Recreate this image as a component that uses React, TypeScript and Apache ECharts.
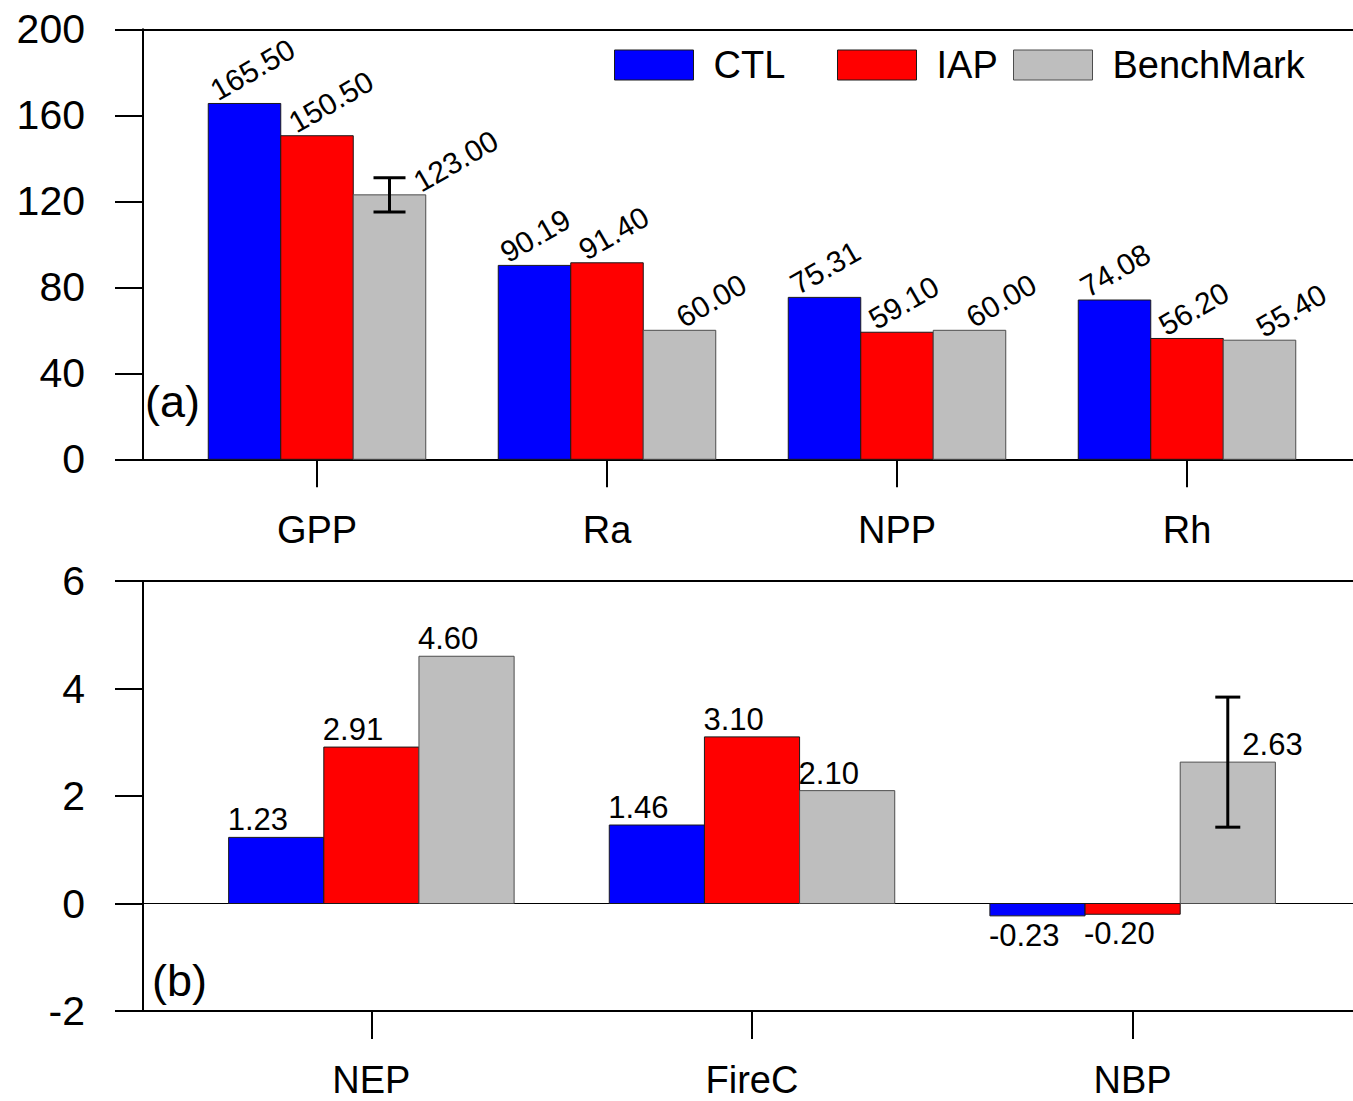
import React, { useEffect, useRef } from 'react';
import * as echarts from 'echarts';

// ---------------- data ----------------
const topCategories = ['GPP', 'Ra', 'NPP', 'Rh'];
const topCTL = [165.5, 90.19, 75.31, 74.08];
const topIAP = [150.5, 91.4, 59.1, 56.2];
const topBenchMark = [123.0, 60.0, 60.0, 55.4];
const topBenchMarkError = [8.0, 0, 0, 0];
const topYAxis = { min: 0, max: 200, interval: 40 };

const bottomCategories = ['NEP', 'FireC', 'NBP'];
const bottomCTL = [1.23, 1.46, -0.23];
const bottomIAP = [2.91, 3.1, -0.2];
const bottomBenchMark = [4.6, 2.1, 2.63];
const bottomBenchMarkError = [0, 0, 1.21];
const bottomYAxis = { min: -2, max: 6, interval: 2 };

const seriesNames = ['CTL', 'IAP', 'BenchMark'];
const panelTags = ['(a)', '(b)'];

// ---------------- styles ----------------
const FONT = '"Liberation Sans", Arial, Helvetica, sans-serif';
const seriesColors = ['#0000ff', '#ff0000', '#bebebe'];
const seriesBorders = ['#1a1a1a', '#1a1a1a', '#4d4d4d'];
const BAR_W = 0.25;
const topLabelShift = [12, 18, 43];
const capHalf = { top: 16, bottom: 12.5 };
const legendLefts = [614, 837, 1013];
const VALUE_FONT_TOP = 30;
const VALUE_FONT_BOTTOM = 31;

function barRenderer(panel: 'top' | 'bottom', k: number) {
  return (params: any, api: any) => {
    const x = api.value(0) as number;
    const v = api.value(1) as number;
    const err = api.value(2) as number;
    const cx = x + (k - 1) * BAR_W;
    const a = api.coord([cx - BAR_W / 2, v]);
    const b = api.coord([cx + BAR_W / 2, 0]);
    const left = a[0];
    const right = b[0];
    const yTop = Math.min(a[1], b[1]);
    const yBot = Math.max(a[1], b[1]);
    const midPx = (left + right) / 2;
    const children: any[] = [
      {
        type: 'rect',
        shape: { x: left, y: yTop, width: right - left, height: yBot - yTop },
        style: { fill: seriesColors[k], stroke: seriesBorders[k], lineWidth: 1 },
      },
    ];
    const ch = capHalf[panel];
    if (err > 0) {
      const hi = api.coord([cx, v + err]);
      const lo = api.coord([cx, v - err]);
      const ls = { stroke: '#000', lineWidth: 3 };
      children.push({ type: 'line', shape: { x1: midPx, y1: hi[1], x2: midPx, y2: lo[1] }, style: ls });
      children.push({ type: 'line', shape: { x1: midPx - ch, y1: hi[1], x2: midPx + ch, y2: hi[1] }, style: ls });
      children.push({ type: 'line', shape: { x1: midPx - ch, y1: lo[1], x2: midPx + ch, y2: lo[1] }, style: ls });
    }
    const text = v.toFixed(2);
    if (panel === 'top') {
      const sx = err > 0 ? midPx + ch + 18 : left + topLabelShift[k];
      children.push({
        type: 'text',
        x: sx,
        y: yTop + 2,
        rotation: Math.PI / 6,
        style: { text, fill: '#000', fontSize: VALUE_FONT_TOP, fontFamily: FONT, align: 'left', verticalAlign: 'bottom' },
      });
    } else {
      const sx = err > 0 ? midPx + ch + 2 : left - 1;
      if (v >= 0) {
        children.push({
          type: 'text', x: sx, y: yTop - 2,
          style: { text, fill: '#000', fontSize: VALUE_FONT_BOTTOM, fontFamily: FONT, align: 'left', verticalAlign: 'bottom' },
        });
      } else {
        children.push({
          type: 'text', x: sx, y: yBot + 4,
          style: { text, fill: '#000', fontSize: VALUE_FONT_BOTTOM, fontFamily: FONT, align: 'left', verticalAlign: 'top' },
        });
      }
    }
    return { type: 'group', children };
  };
}

function buildOption() {
  const topSets = [topCTL, topIAP, topBenchMark];
  const bottomSets = [bottomCTL, bottomIAP, bottomBenchMark];
  const series: any[] = [];
  topSets.forEach((vals, k) => {
    series.push({
      type: 'custom',
      name: seriesNames[k],
      xAxisIndex: 0,
      yAxisIndex: 0,
      itemStyle: { color: seriesColors[k], borderColor: seriesBorders[k], borderWidth: 1 },
      encode: { x: 0, y: 1 },
      data: vals.map((v, i) => [i + 1, v, k === 2 ? topBenchMarkError[i] : 0]),
      renderItem: barRenderer('top', k),
    });
  });
  bottomSets.forEach((vals, k) => {
    series.push({
      type: 'custom',
      name: seriesNames[k],
      xAxisIndex: 2,
      yAxisIndex: 1,
      itemStyle: { color: seriesColors[k], borderColor: seriesBorders[k], borderWidth: 1 },
      encode: { x: 0, y: 1 },
      data: vals.map((v, i) => [i + 1, v, k === 2 ? bottomBenchMarkError[i] : 0]),
      renderItem: barRenderer('bottom', k),
    });
  });

  const axisLineStyle = { color: '#000', width: 2 };
  const topTickValues = topCategories.map((_, i) => i + 1);
  const bottomTickValues = bottomCategories.map((_, i) => i + 1);

  return {
    animation: false,
    backgroundColor: '#fff',
    grid: [
      { left: 143, top: 29.3, width: 1218, height: 430 },
      { left: 143, top: 581, width: 1218, height: 430 },
    ],
    xAxis: [
      {
        type: 'value', gridIndex: 0, min: 0.4, max: 4.6, position: 'bottom',
        axisLine: { onZero: false, lineStyle: axisLineStyle },
        axisTick: { customValues: topTickValues, length: 28, lineStyle: axisLineStyle },
        axisLabel: {
          customValues: topTickValues, margin: 52, lineHeight: 38,
          formatter: (v: number) => topCategories[Math.round(v) - 1] ?? '',
          fontSize: 38, fontFamily: FONT, color: '#000',
        },
        splitLine: { show: false },
      },
      {
        type: 'value', gridIndex: 0, min: 0.4, max: 4.6, position: 'top',
        axisLine: { onZero: false, lineStyle: axisLineStyle },
        axisTick: { show: false }, axisLabel: { show: false }, splitLine: { show: false },
      },
      {
        type: 'value', gridIndex: 1, min: 0.4, max: 3.6, position: 'bottom',
        axisLine: { onZero: false, lineStyle: axisLineStyle },
        axisTick: { customValues: bottomTickValues, length: 28, lineStyle: axisLineStyle },
        axisLabel: {
          customValues: bottomTickValues, margin: 50, lineHeight: 38,
          formatter: (v: number) => bottomCategories[Math.round(v) - 1] ?? '',
          fontSize: 38, fontFamily: FONT, color: '#000',
        },
        splitLine: { show: false },
      },
      {
        type: 'value', gridIndex: 1, min: 0.4, max: 3.6, position: 'top',
        axisLine: { onZero: false, lineStyle: axisLineStyle },
        axisTick: { show: false }, axisLabel: { show: false }, splitLine: { show: false },
      },
      {
        type: 'value', gridIndex: 1, min: 0.4, max: 3.6, position: 'bottom',
        axisLine: { onZero: true, lineStyle: { color: '#000', width: 1.2 } },
        axisTick: { show: false }, axisLabel: { show: false }, splitLine: { show: false },
      },
    ],
    yAxis: [
      {
        type: 'value', gridIndex: 0, ...topYAxis,
        axisLine: { show: true, onZero: false, lineStyle: axisLineStyle },
        axisTick: { show: true, length: 28, lineStyle: axisLineStyle },
        axisLabel: { margin: 58, fontSize: 41, fontFamily: FONT, color: '#000' },
        splitLine: { show: false },
      },
      {
        type: 'value', gridIndex: 1, ...bottomYAxis,
        axisLine: { show: true, onZero: false, lineStyle: axisLineStyle },
        axisTick: { show: true, length: 28, lineStyle: axisLineStyle },
        axisLabel: { margin: 58, fontSize: 41, fontFamily: FONT, color: '#000' },
        splitLine: { show: false },
      },
    ],
    legend: seriesNames.map((name, k) => ({
      data: [{ name, icon: 'rect' }],
      left: legendLefts[k],
      top: 46,
      padding: 0,
      itemWidth: 79,
      itemHeight: 30,
      selectedMode: false,
      itemStyle: { color: seriesColors[k], borderColor: seriesBorders[k], borderWidth: 1 },
      textStyle: { fontSize: 38, fontFamily: FONT, color: '#000', padding: [0, 0, 0, 15] },
    })),
    graphic: [
      {
        type: 'text', left: 145, top: 379,
        style: { text: panelTags[0], fontSize: 45, fontFamily: FONT, fill: '#000' },
      },
      {
        type: 'text', left: 152, top: 958,
        style: { text: panelTags[1], fontSize: 45, fontFamily: FONT, fill: '#000' },
      },
    ],
    series,
  };
}

export default function App() {
  const ref = useRef<HTMLDivElement>(null);
  useEffect(() => {
    if (!ref.current) return;
    const chart = echarts.init(ref.current, null, { renderer: 'svg' });
    chart.setOption(buildOption() as any);
    return () => chart.dispose();
  }, []);
  return (
    <div
      style={{ position: 'absolute', left: 0, top: 0, width: 1353, height: 1101, overflow: 'hidden', background: '#fff' }}
    >
      <div ref={ref} style={{ width: 1372, height: 1101 }} />
    </div>
  );
}
